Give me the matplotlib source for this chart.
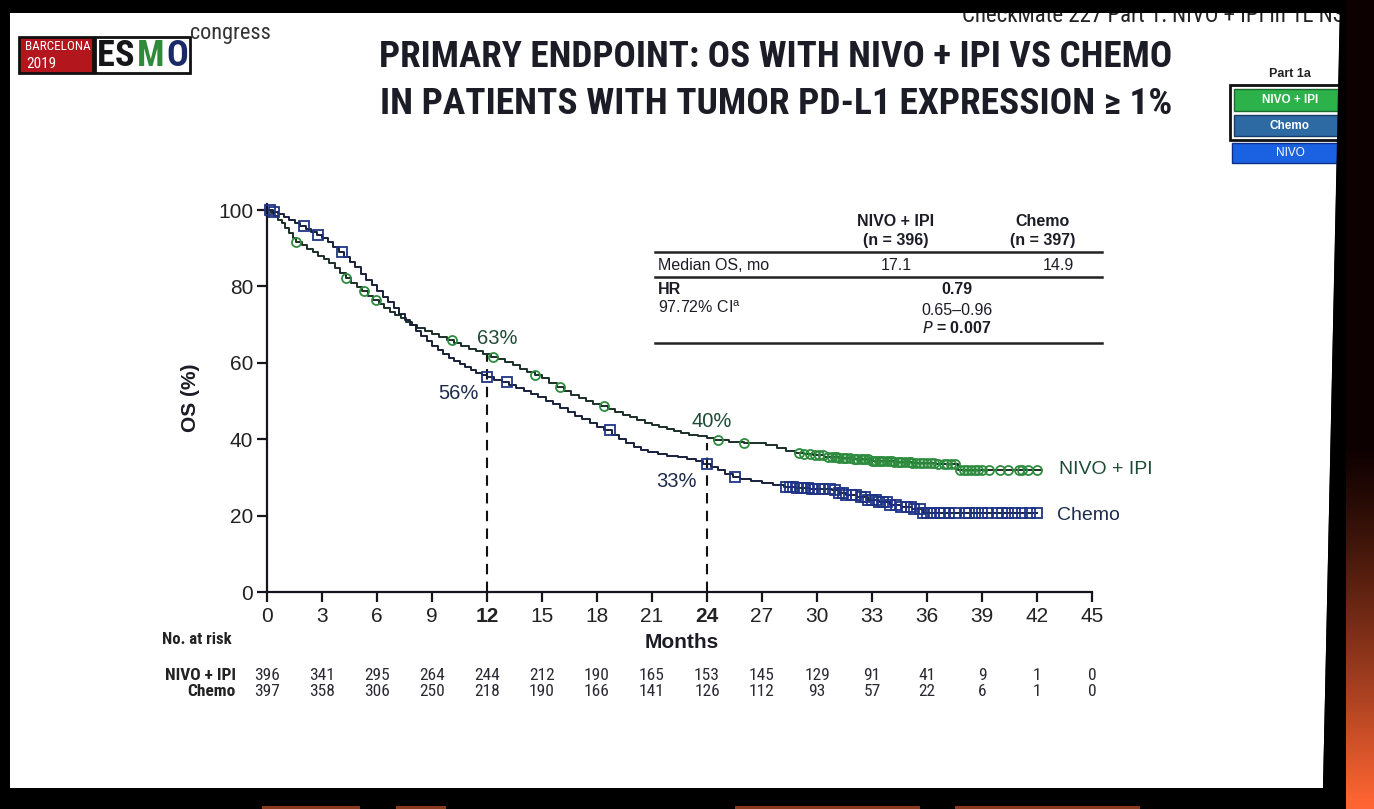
import numpy as np
import matplotlib
matplotlib.use("Agg")
import matplotlib.pyplot as plt
from matplotlib import font_manager as fm
from matplotlib.patches import Rectangle, Polygon
import matplotlib.transforms as mtransforms

# ---------------- data ----------------
month_ticks = [0, 3, 6, 9, 12, 15, 18, 21, 24, 27, 30, 33, 36, 39, 42, 45]
y_ticks = [0, 20, 40, 60, 80, 100]

nivo_t = [0.0, 0.2, 0.4, 0.6, 0.8, 1.0, 1.2, 1.4, 1.6, 1.9, 2.2, 2.5, 2.8, 3.1, 3.4, 3.7,
          4.0, 4.3, 4.6, 4.9, 5.2, 5.5, 5.8, 6.1, 6.4, 6.7, 7.0, 7.3, 7.6, 7.9, 8.2, 8.6,
          9.0, 9.4, 9.8, 10.2, 10.6, 11.0, 11.4, 11.8, 12.2, 12.6, 13.0, 13.4, 13.8, 14.2,
          14.6, 15.0, 15.4, 15.8, 16.2, 16.6, 17.0, 17.4, 17.8, 18.2, 18.6, 19.0, 19.4,
          19.8, 20.2, 20.6, 21.0, 21.4, 21.8, 22.2, 22.6, 23.0, 23.5, 24.0, 24.4, 25.2,
          26.0, 27.2, 27.8, 28.3, 28.8, 29.3, 29.8, 30.4, 31.2, 32.0, 33.0, 34.2, 35.2,
          36.5, 37.7, 42.2]
nivo_s = [100.0, 99.2, 98.5, 97.5, 96.5, 95.3, 94.0, 92.8, 91.6, 90.8, 89.8, 88.9, 88.0,
          87.2, 86.0, 84.8, 83.5, 82.2, 81.0, 79.9, 78.7, 77.6, 76.5, 75.4, 74.3, 73.3,
          72.5, 71.7, 70.8, 70.0, 69.0, 68.3, 67.6, 66.8, 66.0, 65.2, 64.4, 63.7, 63.0,
          62.3, 61.6, 60.9, 60.1, 59.3, 58.5, 57.6, 56.8, 55.9, 54.8, 53.7, 52.6, 51.6,
          50.8, 50.0, 49.3, 48.6, 47.9, 47.1, 46.4, 45.7, 45.0, 44.3, 43.7, 43.1, 42.6,
          42.1, 41.6, 41.2, 40.8, 40.4, 39.8, 39.3, 38.9, 38.4, 37.6, 37.0, 36.5, 36.1,
          35.8, 35.4, 35.0, 34.7, 34.4, 34.1, 33.8, 33.5, 32.0, 32.0]

chemo_t = [0.0, 0.3, 0.6, 0.9, 1.2, 1.5, 1.8, 2.1, 2.4, 2.7, 3.0, 3.3, 3.6, 3.9, 4.2, 4.5,
           4.8, 5.1, 5.4, 5.7, 6.0, 6.3, 6.6, 6.9, 7.2, 7.5, 7.8, 8.1, 8.4, 8.7, 9.0, 9.3,
           9.6, 9.9, 10.2, 10.5, 10.8, 11.1, 11.4, 11.7, 12.0, 12.4, 12.8, 13.2, 13.6,
           14.0, 14.4, 14.8, 15.2, 15.6, 16.0, 16.4, 16.8, 17.2, 17.6, 18.0, 18.4, 18.8,
           19.2, 19.6, 20.0, 20.4, 20.8, 21.3, 21.8, 22.4, 22.9, 23.4, 23.8, 24.2, 24.6,
           25.0, 25.4, 25.8, 26.4, 27.0, 27.6, 28.2, 28.8, 29.6, 30.8, 31.2, 31.6, 32.2,
           32.8, 33.4, 34.0, 34.6, 35.2, 35.8, 42.0]
chemo_s = [100.0, 99.5, 99.0, 98.2, 97.5, 96.7, 95.8, 95.0, 94.3, 93.5, 92.6, 91.5, 90.3,
           89.0, 87.8, 86.5, 85.0, 83.3, 81.8, 80.3, 78.8, 77.3, 75.8, 74.3, 72.8, 71.3,
           69.8, 68.3, 66.9, 65.6, 64.4, 63.3, 62.3, 61.3, 60.4, 59.6, 58.8, 58.1, 57.4,
           56.8, 56.3, 55.6, 54.9, 54.2, 53.4, 52.6, 51.8, 51.0, 50.1, 49.2, 48.2, 47.2,
           46.2, 45.2, 44.3, 43.3, 42.3, 41.2, 40.0, 38.9, 38.0, 37.2, 36.6, 36.1, 35.7,
           35.3, 34.9, 34.3, 33.5, 32.8, 31.9, 31.0, 30.1, 29.5, 29.0, 28.6, 28.1, 27.6,
           27.2, 27.0, 26.6, 26.0, 25.4, 24.8, 24.2, 23.6, 22.8, 22.2, 21.6, 20.8, 20.8]

nivo_censor = [1.6, 4.3, 5.3, 5.95, 10.1, 12.3, 14.6, 16.0, 18.4, 24.6, 26.0,
               29.0, 29.3, 29.6, 29.9, 30.1, 30.3, 30.6, 30.8, 31.0, 31.1, 31.2, 31.4,
               31.5, 31.6, 31.8, 32.0, 32.1, 32.2, 32.4, 32.5, 32.6, 32.8, 33.0, 33.1,
               33.2, 33.4, 33.5, 33.6, 33.8, 34.0, 34.1, 34.2, 34.4, 34.5, 34.6, 34.8,
               35.0, 35.1, 35.2, 35.4, 35.6, 35.8, 36.0, 36.2, 36.4, 36.6, 36.9, 37.1,
               37.3, 37.5, 37.8, 38.0, 38.2, 38.4, 38.6, 38.8, 39.0, 39.4, 40.0, 40.4,
               41.0, 41.2, 41.5, 42.0]
chemo_censor = [0.15, 0.4, 2.0, 2.8, 4.1, 12.0, 13.1, 18.7, 24.0, 25.5,
                28.3, 28.5, 28.7, 28.9, 29.1, 29.3, 29.5, 29.7, 29.9, 30.1, 30.3, 30.7,
                31.0, 31.2, 31.4, 31.6, 31.9, 32.1, 32.4, 32.6, 32.8, 33.0, 33.2, 33.4,
                33.6, 33.8, 34.0, 34.3, 34.6, 34.9, 35.1, 35.3, 35.6, 35.8, 36.0, 36.2,
                36.4, 36.7, 36.9, 37.2, 37.5, 38.1, 38.3, 38.6, 39.0, 39.3, 39.8, 40.1,
                40.4, 40.8, 41.2, 41.6, 42.0]

risk_nivo = [396, 341, 295, 264, 244, 212, 190, 165, 153, 145, 129, 91, 41, 9, 1, 0]
risk_chemo = [397, 358, 306, 250, 218, 190, 166, 141, 126, 112, 93, 57, 22, 6, 1, 0]

landmark_months = [12, 24]
nivo_landmark = [63, 40]
chemo_landmark = [56, 33]

# ---------------- fonts ----------------
names = {f.name for f in fm.fontManager.ttflist}
BASE = ["Liberation Sans", "DejaVu Sans"]
narrow_name = None
for cand in ["Liberation Sans Narrow", "Arial Narrow", "Roboto Condensed", "Open Sans Condensed"]:
    if cand in names:
        narrow_name = cand
        break
NARROW = ([narrow_name] if narrow_name else []) + BASE
plt.rcParams["font.family"] = BASE

W, H = 1374, 809
fig = plt.figure(figsize=(W / 100, H / 100), dpi=100, facecolor="black")

bg = fig.add_axes([0, 0, 1, 1])
bg.set_xlim(0, W)
bg.set_ylim(H, 0)
bg.axis("off")
bg.set_facecolor("none")
bg.set_zorder(1)

# slide (white) on black frame
bg.add_patch(Polygon([(10, 12), (1340, 12), (1323, 788), (10, 788)], closed=True,
                     facecolor="white", edgecolor="none", zorder=1))

TXT = "#1c1c26"

# top text, partly hidden by the frame as in the photo
bg.text(962, 22, "CheckMate 227 Part 1: NIVO + IPI in 1L NSCLC", fontsize=16.5,
        color="#222", ha="left", va="baseline", zorder=5, family=NARROW)
# masks
bg.add_patch(Rectangle((0, 0), W, 13, facecolor="black", edgecolor="none", zorder=10))
bg.add_patch(Polygon([(1340, 0), (W, 0), (W, H), (1323, H), (1323, 788)], closed=True,
                     facecolor="black", edgecolor="none", zorder=10))
bg.add_patch(Rectangle((0, 788), W, 21, facecolor="black", edgecolor="none", zorder=10))
# faint orange bits at the very bottom
for bx, bw in [(262, 98), (396, 50), (735, 185), (955, 185)]:
    bg.add_patch(Rectangle((bx, 806), bw, 3, facecolor="#8a3a1c", edgecolor="none", zorder=11))
# orange glow on the right edge
grad = np.zeros((100, 1, 3))
tt = np.linspace(0, 1, 100)
ramp = np.clip((tt - 0.55) / 0.45, 0, 1) ** 1.2
grad[:, 0, 0] = 0.96 * ramp + 0.05
grad[:, 0, 1] = 0.40 * ramp
grad[:, 0, 2] = 0.20 * ramp
bg.imshow(grad, extent=[1346, W, H, 0], aspect="auto", zorder=11, interpolation="bilinear")

# ---------------- logo ----------------
bg.add_patch(Rectangle((19, 37), 74, 36, facecolor="#b3161c", edgecolor="#111", lw=2, zorder=4))
bg.text(58, 46, "BARCELONA", fontsize=9.5, color="white", ha="center", va="center",
        zorder=5, family=NARROW)
bg.text(26, 64, "2019", fontsize=11, color="white", ha="left", va="center", zorder=5,
        family=NARROW)
bg.add_patch(Rectangle((95, 37), 95, 36, facecolor="white", edgecolor="#111", lw=2, zorder=4))
for ch, cx, col in [("E", 106, "#15151a"), ("S", 125, "#15151a"),
                    ("M", 151, "#2f8a3a"), ("O", 177, "#1a2a66")]:
    bg.text(cx, 56, ch, fontsize=26, fontweight="bold", color=col, ha="center",
            va="center", zorder=5, family=NARROW)
bg.text(190, 33, "congress", fontsize=16, color="#333", ha="left", va="center", zorder=5,
        family=NARROW)

# ---------------- title ----------------
t1 = bg.text(776, 57, "PRIMARY ENDPOINT: OS WITH NIVO + IPI VS CHEMO", fontsize=24,
             fontweight="bold", color=TXT, ha="center", va="center", zorder=5, family=NARROW)
t2 = bg.text(776, 104, "IN PATIENTS WITH TUMOR PD-L1 EXPRESSION \u2265 1%", fontsize=24,
             fontweight="bold", color=TXT, ha="center", va="center", zorder=5, family=NARROW)
fig.canvas.draw()
r = fig.canvas.get_renderer()
for t, target in [(t1, 795), (t2, 795)]:
    wpx = t.get_window_extent(r).width
    t.set_fontsize(t.get_fontsize() * target / wpx)

# ---------------- legend boxes (top right) ----------------
bg.text(1290, 74, "Part 1a", fontsize=9, fontweight="bold", color="#222", ha="center",
        va="center", zorder=5)
bg.add_patch(Rectangle((1230, 85), 110, 55, facecolor="white", edgecolor="#111", lw=2, zorder=4))
bg.add_patch(Rectangle((1234, 89), 104, 22, facecolor="#2db24b", edgecolor="#1d6a30", lw=1, zorder=4.5))
bg.text(1290, 100, "NIVO + IPI", fontsize=8.5, fontweight="bold", color="white",
        ha="center", va="center", zorder=5)
bg.add_patch(Rectangle((1234, 115), 104, 21, facecolor="#2d6aa3", edgecolor="#173a66", lw=1, zorder=4.5))
bg.text(1290, 126, "Chemo", fontsize=8.5, fontweight="bold", color="white",
        ha="center", va="center", zorder=5)
bg.add_patch(Rectangle((1232, 143), 106, 20, facecolor="#1a62e2", edgecolor="#0d2f8a", lw=1, zorder=4.5))
bg.text(1290, 153, "NIVO", fontsize=8.5, color="white", ha="center", va="center", zorder=5)

# ---------------- stats table ----------------
TS = 11.5
bg.text(896, 221, "NIVO + IPI", fontsize=TS, fontweight="bold", color=TXT, ha="center", va="center", zorder=5)
bg.text(896, 240, "(n = 396)", fontsize=TS, fontweight="bold", color=TXT, ha="center", va="center", zorder=5)
bg.text(1043, 221, "Chemo", fontsize=TS, fontweight="bold", color=TXT, ha="center", va="center", zorder=5)
bg.text(1043, 240, "(n = 397)", fontsize=TS, fontweight="bold", color=TXT, ha="center", va="center", zorder=5)
for yy in (252, 277, 343):
    bg.plot([655, 1102], [yy, yy], color="#222", lw=1.8, zorder=5)
bg.text(658, 265, "Median OS, mo", fontsize=TS, color=TXT, ha="left", va="center", zorder=5)
bg.text(896, 265, "17.1", fontsize=TS, color=TXT, ha="center", va="center", zorder=5)
bg.text(1058, 265, "14.9", fontsize=TS, color=TXT, ha="center", va="center", zorder=5)
bg.text(658, 290, "HR", fontsize=TS, fontweight="bold", color=TXT, ha="left", va="center", zorder=5)
bg.text(658, 308, "97.72% CI$^{\\mathregular{a}}$", fontsize=TS, color=TXT, ha="left", va="center", zorder=5)
bg.text(957, 290, "0.79", fontsize=TS, fontweight="bold", color=TXT, ha="center", va="center", zorder=5)
bg.text(957, 310, "0.65\u20130.96", fontsize=TS, color=TXT, ha="center", va="center", zorder=5)
bg.text(957, 328, "$\\mathit{P}$ = 0.007", fontsize=TS, fontweight="bold", color=TXT,
        ha="center", va="center", zorder=5)

# ---------------- main axes ----------------
x0, x1 = 267, 1092
y0, y1 = 592, 210
ax = fig.add_axes([x0 / W, 1 - y0 / H, (x1 - x0) / W, (y0 - y1) / H])
ax.set_zorder(3)
ax.set_facecolor("none")
ax.set_xlim(0, 45)
ax.set_ylim(0, 100)
for s in ("top", "right"):
    ax.spines[s].set_visible(False)
for s in ("left", "bottom"):
    ax.spines[s].set_color("#15151f")
    ax.spines[s].set_linewidth(1.6)
ax.spines["left"].set_bounds(0, 101.5)
ax.set_xticks(month_ticks)
ax.set_yticks(y_ticks)
ax.tick_params(axis="both", direction="out", length=7, width=1.6, color="#15151f",
               labelsize=15, labelcolor="#222")
ax.tick_params(axis="x", pad=4)
ax.tick_params(axis="y", pad=3)
ax.set_xticklabels([str(m) for m in month_ticks])
for lab, m in zip(ax.get_xticklabels(), month_ticks):
    if m in landmark_months:
        lab.set_fontweight("bold")

nt = np.array(nivo_t)
ns = np.array(nivo_s)
ct = np.array(chemo_t)
cs = np.array(chemo_s)

ax.step(nt, ns, where="post", color="#1b2f26", lw=1.4, zorder=4, clip_on=False)
ax.step(ct, cs, where="post", color="#181f3a", lw=1.4, zorder=4, clip_on=False)


def surv_at(ts, ss, x):
    idx = np.searchsorted(ts, x, side="right") - 1
    return ss[np.clip(idx, 0, len(ss) - 1)]


nc = np.array(nivo_censor)
cc = np.array(chemo_censor)
ax.plot(nc, surv_at(nt, ns, nc), ls="none", marker="o", ms=6.5, mfc="none",
        mec="#2e8c3f", mew=1.3, zorder=5, clip_on=False)
ax.plot(cc, surv_at(ct, cs, cc), ls="none", marker="s", ms=7, mfc="none",
        mec="#1f3486", mew=1.3, zorder=5, clip_on=False)

# landmark dashed lines
for m, v in zip(landmark_months, nivo_landmark):
    ax.plot([m, m], [0, v - 1], color="#111", lw=1.5, ls=(0, (5, 3.5)), zorder=3)

GREEN_T = "#1f4b36"
BLUE_T = "#1d2a4c"
offs_n = [(10, 13), (5, 18)]
offs_c = [(-29, -15), (-31, -16)]
for m, v, o in zip(landmark_months, nivo_landmark, offs_n):
    ax.annotate(f"{v}%", xy=(m, v), xytext=o, textcoords="offset pixels",
                fontsize=14.5, color=GREEN_T, ha="center", va="center", zorder=6)
for m, v, o in zip(landmark_months, chemo_landmark, offs_c):
    ax.annotate(f"{v}%", xy=(m, v), xytext=o, textcoords="offset pixels",
                fontsize=14.5, color=BLUE_T, ha="center", va="center", zorder=6)

# curve end labels
ax.annotate("NIVO + IPI", xy=(nt[-1], ns[-1]), xytext=(18, 0), textcoords="offset pixels",
            fontsize=14, color=GREEN_T, ha="left", va="center", annotation_clip=False)
ax.annotate("Chemo", xy=(ct[-1], cs[-1]), xytext=(20, -3), textcoords="offset pixels",
            fontsize=14, color=BLUE_T, ha="left", va="center", annotation_clip=False)

# axis titles
bg.text(682, 643, "Months", fontsize=15, fontweight="bold", color=TXT, ha="center",
        va="center", zorder=5)
bg.text(190, 398, "OS (%)", fontsize=15, fontweight="bold", color=TXT, ha="center",
        va="center", rotation=90, zorder=5)

# ---------------- number at risk ----------------
trans = mtransforms.blended_transform_factory(ax.transData, bg.transData)
bg.text(162, 640, "No. at risk", fontsize=12, fontweight="bold", color="#222",
        ha="left", va="center", zorder=5, family=NARROW)
bg.text(236, 676, "NIVO + IPI", fontsize=12.5, fontweight="bold", color="#222",
        ha="right", va="center", zorder=5, family=NARROW)
bg.text(236, 692, "Chemo", fontsize=12.5, fontweight="bold", color="#222",
        ha="right", va="center", zorder=5, family=NARROW)
for m, a, b in zip(month_ticks, risk_nivo, risk_chemo):
    fig.text(m, 676, str(a), transform=trans, fontsize=12.5, color="#2a2a33",
             ha="center", va="center", family=NARROW, zorder=6)
    fig.text(m, 692, str(b), transform=trans, fontsize=12.5, color="#2a2a33",
             ha="center", va="center", family=NARROW, zorder=6)

fig.savefig("out.png", dpi=100, facecolor="black")
